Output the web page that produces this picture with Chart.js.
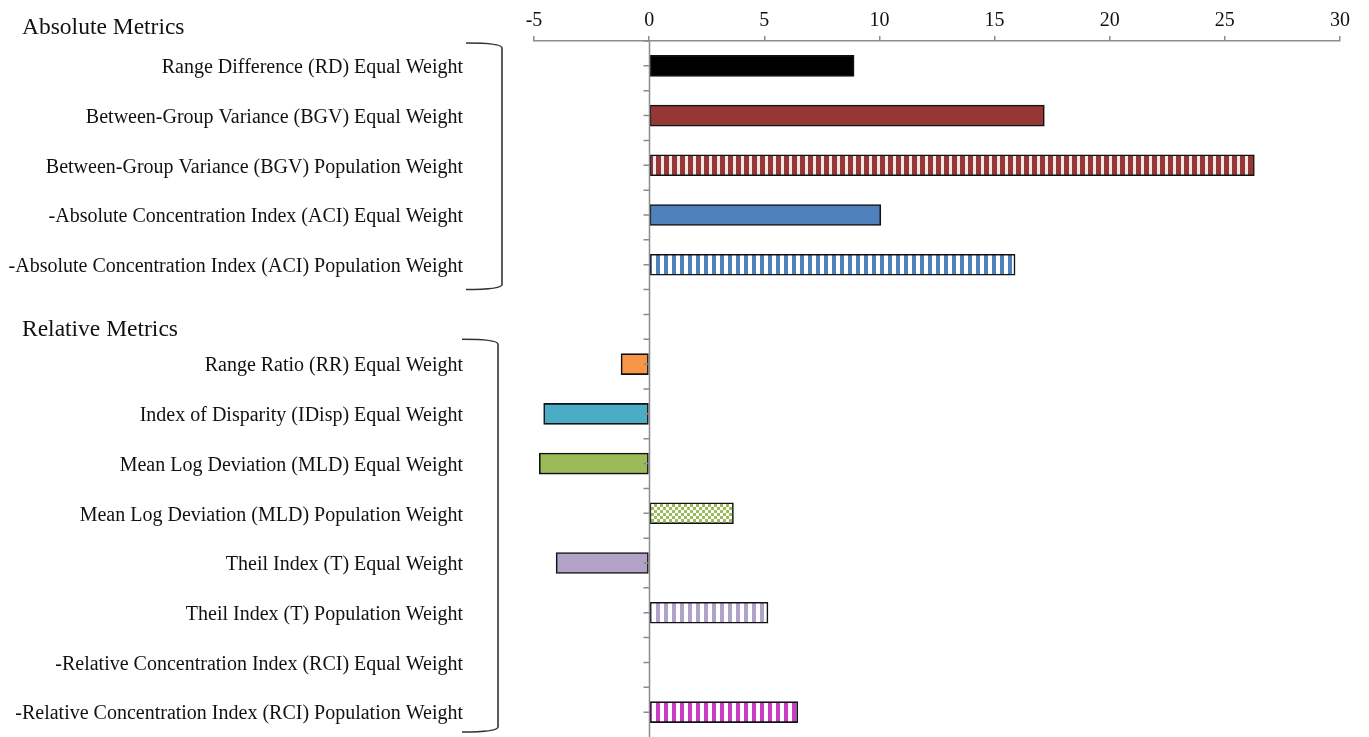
<!DOCTYPE html>
<html>
<head>
<meta charset="utf-8">
<script src="https://cdn.jsdelivr.net/npm/chart.js@4.4.0/dist/chart.umd.min.js"></script>
<style>
html,body{margin:0;padding:0;background:#fff;}
canvas{display:block;}
</style>
</head>
<body>
<canvas id="c" width="1369" height="737"></canvas>
<script>
// ---- data ----
const categories = [
  "Range Difference (RD) Equal Weight",
  "Between-Group Variance (BGV) Equal Weight",
  "Between-Group Variance (BGV) Population Weight",
  "-Absolute Concentration Index (ACI) Equal Weight",
  "-Absolute Concentration Index (ACI) Population Weight",
  "",
  "Range Ratio (RR) Equal Weight",
  "Index of Disparity (IDisp) Equal Weight",
  "Mean Log Deviation (MLD) Equal Weight",
  "Mean Log Deviation (MLD) Population Weight",
  "Theil Index (T) Equal Weight",
  "Theil Index (T) Population Weight",
  "-Relative Concentration Index (RCI) Equal Weight",
  "-Relative Concentration Index (RCI) Population Weight"
];
const values = [8.9, 17.16, 26.28, 10.06, 15.89, null, -1.22, -4.58, -4.77, 3.66, -4.04, 5.16, null, 6.45];
const groupHeaders = ["Absolute Metrics", "Relative Metrics"];
const absoluteGroup = [0, 4];
const relativeGroup = [6, 13];
const xTicks = [-5, 0, 5, 10, 15, 20, 25, 30];

// ---- styles ----
function stripes(fg, bg, fgW, period) {
  const c = document.createElement('canvas');
  c.width = period; c.height = 4;
  const g = c.getContext('2d');
  g.fillStyle = bg; g.fillRect(0, 0, period, 4);
  g.fillStyle = fg; g.fillRect(0, 0, fgW, 4);
  return g.createPattern(c, 'repeat');
}
function checker(fg, bg, s) {
  const c = document.createElement('canvas');
  c.width = 2 * s; c.height = 2 * s;
  const g = c.getContext('2d');
  g.fillStyle = bg; g.fillRect(0, 0, 2 * s, 2 * s);
  g.fillStyle = fg; g.fillRect(0, 0, s, s); g.fillRect(s, s, s, s);
  return g.createPattern(c, 'repeat');
}
const fills = [
  '#000000',
  '#953735',
  stripes('#953735', '#f4e6e6', 5, 8),
  '#4F81BD',
  stripes('#4F81BD', '#ffffff', 4, 8),
  '#ffffff',
  '#F79646',
  '#4BACC6',
  '#9BBB59',
  checker('#9BBB59', '#ffffff', 3),
  '#B3A2C7',
  stripes('#B3A2C7', '#ffffff', 4, 8),
  '#CC3CC4',
  stripes('#CC3CC4', '#ffffff', 4, 8)
];

const FONT = "'Liberation Serif', 'Times New Roman', serif";
const AXIS = '#8c8c8c';
const TEXT = '#111';

// zero-value category axis line with tick marks at category centres and boundaries
const zeroAxisPlugin = {
  id: 'zeroAxis',
  afterDatasetsDraw(chart) {
    const ctx = chart.ctx;
    const x0 = Math.round(chart.scales.x.getPixelForValue(0)) + 0.5;
    const y = chart.scales.y;
    const area = chart.chartArea;
    const step = y.getPixelForValue(1) - y.getPixelForValue(0);
    ctx.save();
    ctx.strokeStyle = AXIS;
    ctx.lineWidth = 1.5;
    ctx.beginPath();
    ctx.moveTo(x0, area.top);
    ctx.lineTo(x0, area.bottom);
    for (let i = 0; i < categories.length; i++) {
      const c = y.getPixelForValue(i);
      for (const yy of [c - step / 2, c]) {
        ctx.moveTo(x0, yy);
        ctx.lineTo(x0 - 6, yy);
      }
    }
    ctx.stroke();
    ctx.restore();
  }
};

const bracketPlugin = {
  id: 'brackets',
  afterDraw(chart) {
    const ctx = chart.ctx;
    const y = chart.scales.y;
    const step = y.getPixelForValue(1) - y.getPixelForValue(0);
    const area = chart.chartArea;
    function bracket(xs, xv, top, bottom) {
      const r = 5;
      ctx.beginPath();
      ctx.moveTo(xs, top);
      ctx.quadraticCurveTo(xv, top, xv, top + r);
      ctx.lineTo(xv, bottom - r);
      ctx.quadraticCurveTo(xv, bottom, xs, bottom);
      ctx.stroke();
    }
    ctx.save();
    ctx.strokeStyle = '#333';
    ctx.lineWidth = 1.6;
    const aTop = y.getPixelForValue(absoluteGroup[0]) - step / 2 + 2;
    const aBot = y.getPixelForValue(absoluteGroup[1]) + step / 2;
    bracket(466, 502, aTop, aBot);
    const rTop = y.getPixelForValue(relativeGroup[0]) - step / 2;
    const rBot = Math.min(y.getPixelForValue(relativeGroup[1]) + step / 2, area.bottom) - 5;
    bracket(462, 498, rTop, rBot);
    ctx.fillStyle = TEXT;
    ctx.font = '23.5px ' + FONT;
    ctx.textBaseline = 'middle';
    ctx.textAlign = 'left';
    ctx.fillText(groupHeaders[0], 22, aTop - 15);
    ctx.fillText(groupHeaders[1], 22, rTop - 9);
    ctx.restore();
  }
};

new Chart(document.getElementById('c'), {
  type: 'bar',
  data: {
    labels: categories,
    datasets: [{
      data: values,
      backgroundColor: fills,
      borderColor: '#111',
      borderWidth: 1.6,
      borderSkipped: false,
      barThickness: 21
    }]
  },
  options: {
    indexAxis: 'y',
    responsive: false,
    animation: false,
    devicePixelRatio: 1,
    layout: { padding: { left: 0, right: 29, top: 0, bottom: 0 } },
    plugins: { legend: { display: false }, tooltip: { enabled: false } },
    scales: {
      x: {
        type: 'linear',
        position: 'top',
        min: xTicks[0],
        max: xTicks[xTicks.length - 1],
        afterBuildTicks(s) { s.ticks = xTicks.map(v => ({ value: v })); },
        afterFit(s) { s.height = 41; },
        grid: { drawOnChartArea: false, drawTicks: true, tickLength: 5, color: AXIS, lineWidth: 1.5 },
        border: { display: true, color: AXIS, width: 1.5 },
        ticks: { font: { family: FONT, size: 20 }, color: TEXT, padding: 3 }
      },
      y: {
        type: 'category',
        position: 'left',
        offset: true,
        afterFit(s) { s.width = 534; s.paddingTop = 0; s.paddingBottom = 0; },
        grid: { display: false, drawTicks: false },
        border: { display: false },
        ticks: { font: { family: FONT, size: 20 }, color: TEXT, padding: 71, autoSkip: false, labelOffset: 2 }
      }
    }
  },
  plugins: [zeroAxisPlugin, bracketPlugin]
});
</script>
</body>
</html>
